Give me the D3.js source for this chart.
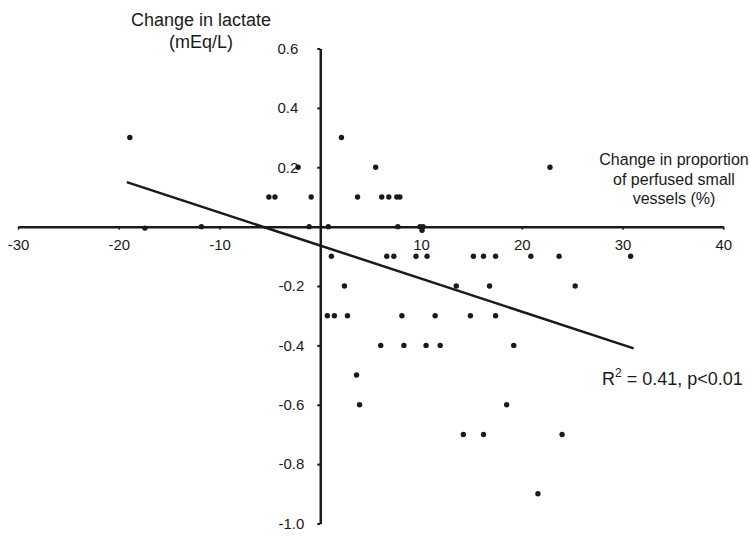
<!DOCTYPE html>
<html>
<head>
<meta charset="utf-8">
<script src="https://cdn.jsdelivr.net/npm/d3@7"></script>
<style>
  body { margin: 0; background: #fff; }
  svg { display: block; }
</style>
</head>
<body>
<div class="main"></div>
<script>
// Chart settings
const width = 750;
const height = 536;

// Data: change in proportion of perfused small vessels (%) vs change in lactate (mEq/L)
const changePerfused = [
  -18.9, 2.1,
  -2.2, 5.5, 22.8,
  -5.1, -4.5, -0.9, 3.7, 6.1, 6.8, 7.6, 7.9,
  -17.4, -11.8, -1.1, 0.8, 7.7, 9.9, 10.2, 10.1,
  1.1, 6.6, 7.3, 9.5, 10.6, 15.2, 16.2, 17.4, 20.9, 23.7, 30.8,
  2.4, 13.5, 16.8, 25.3,
  0.7, 1.4, 2.7, 8.1, 11.4, 14.9, 17.4,
  6.0, 8.3, 10.5, 11.9, 19.2,
  3.6,
  3.9, 18.5,
  14.2, 16.2, 24.0,
  21.6
];
const changeLactate = [
  0.3, 0.3,
  0.2, 0.2, 0.2,
  0.1, 0.1, 0.1, 0.1, 0.1, 0.1, 0.1, 0.1,
  -0.005, 0, 0, 0, 0, 0, 0, -0.012,
  -0.1, -0.1, -0.1, -0.1, -0.1, -0.1, -0.1, -0.1, -0.1, -0.1, -0.1,
  -0.2, -0.2, -0.2, -0.2,
  -0.3, -0.3, -0.3, -0.3, -0.3, -0.3, -0.3,
  -0.4, -0.4, -0.4, -0.4, -0.4,
  -0.5,
  -0.6, -0.6,
  -0.7, -0.7, -0.7,
  -0.9
];

// Regression line end points
const fitX = [-19.2, 31.1];
const fitY = [0.15, -0.41];

const xTicks = [-30, -20, -10, 10, 20, 30, 40];
const yTicks = [0.6, 0.4, 0.2, -0.2, -0.4, -0.6, -0.8, -1.0];

const yTitle = ['Change in lactate', '(mEq/L)'];
const xTitle = ['Change in proportion', 'of perfused small', 'vessels (%)'];

const points = changePerfused.map((d, i) => ({ x: d, y: changeLactate[i] }));
const fit = fitX.map((d, i) => ({ x: d, y: fitY[i] }));

const ink = '#1a1a1a';
const font = '"Liberation Sans", Arial, sans-serif';

const svg = d3.select('.main')
  .append('svg')
  .attr('width', width)
  .attr('height', height)
  .attr('style', `font-family: ${font}`);

// Scales
const x = d3.scaleLinear()
  .domain([-30, 40])
  .range([18, 723.3]);

const y = d3.scaleLinear()
  .domain([-1, 0.6])
  .range([523.5, 48.5]);

// Horizontal axis (crosses at y = 0)
svg.append('g')
  .attr('transform', `translate(0, ${y(0)})`)
  .call(d3.axisBottom(x).tickValues(xTicks).tickSize(3).tickSizeOuter(0).tickPadding(9.3)
    .tickFormat(d => String(d)))
  .call(g => g.select('.domain').attr('stroke', ink).attr('stroke-width', 2.5))
  .call(g => g.selectAll('.tick line').attr('stroke', ink).attr('stroke-width', 1.5))
  .call(g => g.selectAll('.tick text').attr('fill', ink).style('font-size', '15px')
    .style('font-family', font));

// Vertical axis (crosses at x = 0)
svg.append('g')
  .attr('transform', `translate(${x(0)}, 0)`)
  .call(d3.axisLeft(y).tickValues(yTicks).tickSize(3).tickSizeOuter(0)
    .tickFormat(d => d.toFixed(1)))
  .call(g => g.select('.domain').attr('stroke', ink).attr('stroke-width', 2.5))
  .call(g => g.selectAll('.tick line').attr('stroke', ink).attr('stroke-width', 2))
  .call(g => g.selectAll('.tick text').attr('fill', ink).style('font-size', '15px')
    .style('font-family', font)
    .attr('x', d => d > 0 ? -22 : -16));

// Regression line
svg.append('path')
  .datum(fit)
  .attr('fill', 'none')
  .attr('stroke', ink)
  .attr('stroke-width', 2.5)
  .attr('d', d3.line().x(d => x(d.x)).y(d => y(d.y)));

// Points
svg.append('g')
  .selectAll('circle')
  .data(points)
  .enter()
  .append('circle')
  .attr('cx', d => x(d.x))
  .attr('cy', d => y(d.y))
  .attr('r', 2.7)
  .attr('fill', ink);

// Axis titles
svg.append('g')
  .attr('fill', ink)
  .attr('text-anchor', 'middle')
  .style('font-size', '18px')
  .selectAll('text')
  .data(yTitle)
  .enter()
  .append('text')
  .attr('x', 201)
  .attr('y', (d, i) => 26 + i * 22)
  .text(d => d);

svg.append('g')
  .attr('fill', ink)
  .attr('text-anchor', 'middle')
  .style('font-size', '16px')
  .selectAll('text')
  .data(xTitle)
  .enter()
  .append('text')
  .attr('x', 674)
  .attr('y', (d, i) => 165 + i * 19.5)
  .text(d => d);

// Fit statistics
const stat = svg.append('text')
  .attr('x', 602)
  .attr('y', 385)
  .attr('fill', ink)
  .style('font-size', '18px');
stat.append('tspan').text('R');
stat.append('tspan').attr('dy', -8).style('font-size', '12px').text('2');
stat.append('tspan').attr('dy', 8).text(' = 0.41, p<0.01');
</script>
</body>
</html>
